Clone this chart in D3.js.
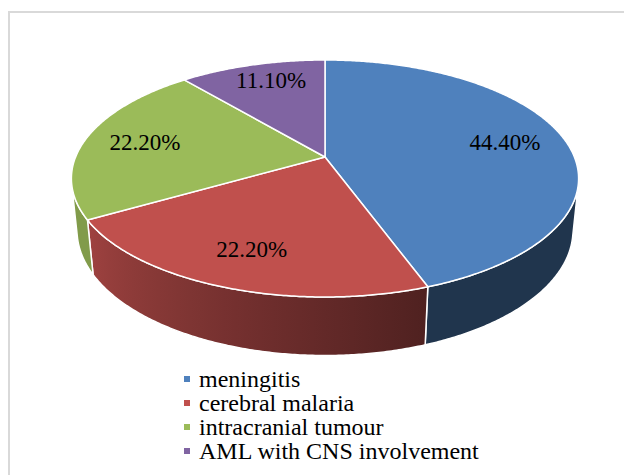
<!DOCTYPE html>
<html>
<head>
<meta charset="utf-8">
<script src="https://cdn.jsdelivr.net/npm/d3@7"></script>
<style>
html, body { margin: 0; padding: 0; background: #fff; }
svg { display: block; }
svg text { font-family: "Liberation Serif", LiberationSerif, Tinos, "Times New Roman", Times, "Nimbus Roman", "Nimbus Roman No9 L", FreeSerif, "Noto Serif", "DejaVu Serif", serif; }
</style>
</head>
<body>
<div id="chart"></div>
<script>
// data
var categories = ["meningitis", "cerebral malaria", "intracranial tumour", "AML with CNS involvement"];
var values = [44.4, 22.2, 22.2, 11.1];
var labelText = ["44.40%", "22.20%", "22.20%", "11.10%"];
var colors = ["#4f81bd", "#c0504d", "#9bbb59", "#8064a2"];

var W = 624, H = 475;
var svg = d3.select("#chart").append("svg").attr("width", W).attr("height", H);
var defs = svg.append("defs");

// chart frame (runs off the right / bottom of the picture)
svg.append("rect")
  .attr("x", 9).attr("y", 12)
  .attr("width", 700).attr("height", 600)
  .attr("fill", "#fff")
  .attr("stroke", "#d9d9d9")
  .attr("stroke-width", 2);

// simple perspective view of a flat cylinder
var cx = 325, cy = 157, Kx = 1222, Ky = 1226, D = 4.9;
var sE = 0.458, cE = Math.sqrt(1 - sE * sE);
var depth = 0.235;   // cylinder height, in radius units

function project(a, r, y) {   // a: radians clockwise from the back
  var u = r * Math.sin(a), v = r * Math.cos(a);
  var Y = y * cE + v * sE, Z = D + v * cE - y * sE;
  return [cx + Kx * u / Z, cy - Ky * Y / Z];
}

var arcs = d3.pie().sort(null).value(function(d) { return d; })(values);

// wall faces the viewer where 1 + D*cos(E)*cos(a) < 0
var aVis = Math.acos(-1 / (D * cE));
var aVisEnd = 2 * Math.PI - aVis;
var step = Math.PI / 360;

function samples(a0, a1) {
  var n = Math.max(2, Math.ceil((a1 - a0) / step));
  return d3.range(n + 1).map(function(i) { return a0 + (a1 - a0) * i / n; });
}

// shade for the side: darker toward the right
function shade(a) {
  var t = Math.max(0, Math.min(1, (a * 180 / Math.PI - 160) / 80));
  return 0.41 + 0.42 * t;
}
function darker(col, k) {
  var c = d3.rgb(col);
  return d3.rgb(c.r * k, c.g * k, c.b * k).formatHex();
}

var line = d3.line();

// side walls
var walls = svg.append("g").attr("class", "walls");
arcs.forEach(function(d, i) {
  var a0 = Math.max(d.startAngle, aVis), a1 = Math.min(d.endAngle, aVisEnd);
  if (a1 <= a0) return;
  var as = samples(a0, a1);
  var top = as.map(function(a) { return project(a, 1, 0); });
  var bot = as.map(function(a) { return project(a, 1, -depth); }).reverse();

  var x1 = top[0][0], x2 = top[top.length - 1][0];
  var g = defs.append("linearGradient")
    .attr("id", "side" + i)
    .attr("gradientUnits", "userSpaceOnUse")
    .attr("x1", x1).attr("x2", x2).attr("y1", 0).attr("y2", 0);
  as.filter(function(a, j) { return j % 10 === 0 || j === as.length - 1; }).forEach(function(a) {
    var p = project(a, 1, 0);
    g.append("stop")
      .attr("offset", Math.abs(x2 - x1) < 1e-6 ? 0 : (p[0] - x1) / (x2 - x1))
      .attr("stop-color", darker(colors[i], shade(a)));
  });

  walls.append("path")
    .attr("d", line(top.concat(bot)) + "Z")
    .attr("fill", "url(#side" + i + ")")
    .attr("stroke", "#fff")
    .attr("stroke-width", 1.5)
    .attr("stroke-linejoin", "round");
});

// top faces
var center = project(0, 0, 0);
svg.append("g").attr("class", "tops")
  .selectAll("path")
  .data(arcs)
  .enter().append("path")
    .attr("d", function(d) {
      var pts = samples(d.startAngle, d.endAngle).map(function(a) { return project(a, 1, 0); });
      return line([center].concat(pts)) + "Z";
    })
    .attr("fill", function(d, i) { return colors[i]; })
    .attr("stroke", "#fff")
    .attr("stroke-width", 1.5)
    .attr("stroke-linejoin", "round");

// data labels, pushed inside their slice when they cross an edge
var labelG = svg.append("g").attr("class", "labels");
arcs.forEach(function(d, i) {
  var mid = (d.startAngle + d.endAngle) / 2;
  var p = project(mid, 0.75, 0);
  var t = labelG.append("text")
    .attr("text-anchor", "middle")
    .attr("dy", "0.34em")
    .attr("font-size", "23px")
    .attr("fill", "#000")
    .text(labelText[i]);
  var tw = t.node().getComputedTextLength(), th = 24, pad = 14;
  var m = project(mid, 0.5, 0);
  [d.startAngle, d.endAngle].forEach(function(a) {
    var r = project(a, 1, 0);
    var dx = r[0] - center[0], dy = r[1] - center[1], len = Math.hypot(dx, dy);
    var nx = -dy / len, ny = dx / len;
    if ((m[0] - center[0]) * nx + (m[1] - center[1]) * ny < 0) { nx = -nx; ny = -ny; }
    var dmin = d3.min([[-1, -1], [1, -1], [1, 1], [-1, 1]], function(c) {
      return (p[0] + c[0] * tw / 2 - center[0]) * nx + (p[1] + c[1] * th / 2 - center[1]) * ny;
    });
    if (dmin < pad) { p[0] += nx * (pad - dmin); p[1] += ny * (pad - dmin); }
  });
  t.attr("x", p[0]).attr("y", p[1]);
});

// legend
var legend = svg.append("g").attr("class", "legend");
var ly = d3.scalePoint().domain(categories).range([387, 459]);
var item = legend.selectAll("g")
  .data(categories)
  .enter().append("g")
    .attr("transform", function(d) { return "translate(184," + ly(d) + ")"; });
item.append("rect")
  .attr("x", 0).attr("y", -11)
  .attr("width", 6).attr("height", 6)
  .attr("fill", function(d, i) { return colors[i]; });
item.append("text")
  .attr("x", 15)
  .attr("font-size", "24px")
  .attr("fill", "#000")
  .text(function(d) { return d; });
</script>
</body>
</html>
